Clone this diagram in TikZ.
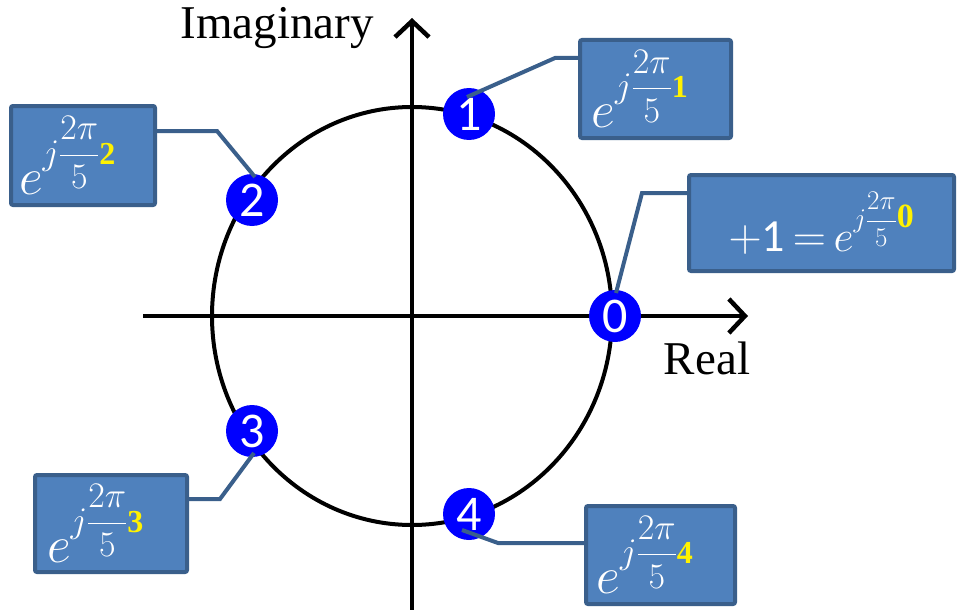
\RequirePackage{fix-cm}
\documentclass[tikz,border=0pt]{standalone}
\usepackage{fontspec}
\setmainfont{Liberation Serif}
\newfontfamily\carlito{Carlito}
\usetikzlibrary{arrows.meta,calc}
\definecolor{boxfill}{HTML}{4F81BD}
\definecolor{boxline}{HTML}{3A5F8B}
\definecolor{ptblue}{HTML}{0000FF}
\newcommand\fsz[1]{\fontsize{#1}{#1}\selectfont}
\newcommand\rootexp[4]{\fsz{#1}$e^{\mbox{\fsz{#2}$j{\displaystyle\frac{2\pi}{5}}$\fsz{#3}\textbf{\textcolor{yellow}{#4}}}}$}
\newcommand\leftexp[1]{\makebox[140pt][l]{\hspace{6pt}\rootexp{52}{36}{32}{#1}}}
\begin{document}
\begin{tikzpicture}[x=1pt,y=-1pt,
  pt/.style={circle,fill=ptblue,minimum size=52pt,inner sep=0pt,text=white,font=\carlito\fsz{50}},
  rootbox/.style={draw=boxline,fill=boxfill,line width=4pt,rounded corners=2pt,text=white,inner sep=0pt},
  conn/.style={draw=boxline,line width=4pt},
  axis/.style={line width=4.5pt,-{Straight Barb[length=16pt,width=34pt]}},
  lab/.style={font=\fsz{47}}]
\useasboundingbox (0,0) rectangle (959,610);
\draw[line width=4pt] (412,316) ellipse [x radius=200pt, y radius=209pt];
\coordinate (xs) at (143,316);
\coordinate (xe) at (748,316);
\coordinate (ys) at (412,614);
\coordinate (ye) at (412,18);
\draw[axis] (xs) -- (xe);
\draw[axis] (ys) -- (ye);
\node[lab] (im) at (277,28) {Imaginary};
\node[lab] (re) at (707,358) {Real};
\node[rootbox,minimum width=144pt,minimum height=99pt] (b2) at (83,155.5) {\leftexp{2}};
\node[rootbox,minimum width=151pt,minimum height=98pt] (b1) at (655.5,89) {\leftexp{1}};
\node[rootbox,minimum width=265pt,minimum height=96pt] (b0) at (821.5,223) {\fsz{46}$+${\carlito 1}\,$=$\,\rootexp{44}{27}{34}{0}};
\node[rootbox,minimum width=152pt,minimum height=97pt] (b3) at (111,523.5) {\leftexp{3}};
\node[rootbox,minimum width=149pt,minimum height=98pt] (b4) at (660.5,555) {\leftexp{4}};
\node[pt] (n0) at (615,316) {0};
\node[pt] (n1) at (469,114) {1};
\node[pt] (n2) at (252,200) {2};
\node[pt] (n3) at (252,431) {3};
\node[pt] (n4) at (469,514) {4};
\draw[conn] (b2.east |- 0,131) -- (217,131) -- ($(n2)+(3,-23)$);
\draw[conn] (b1.west |- 0,58) -- (555,58) -- ($(n1)+(-2,-17)$);
\draw[conn] (b0.west |- 0,193) -- (642,193) -- ($(n0)+(1,-23)$);
\draw[conn] (b3.east |- 0,499) -- (220,499) -- ($(n3)+(2,22)$);
\draw[conn] (b4.west |- 0,543) -- (498,543) -- ($(n4)+(-7,16)$);
\end{tikzpicture}
\end{document}
